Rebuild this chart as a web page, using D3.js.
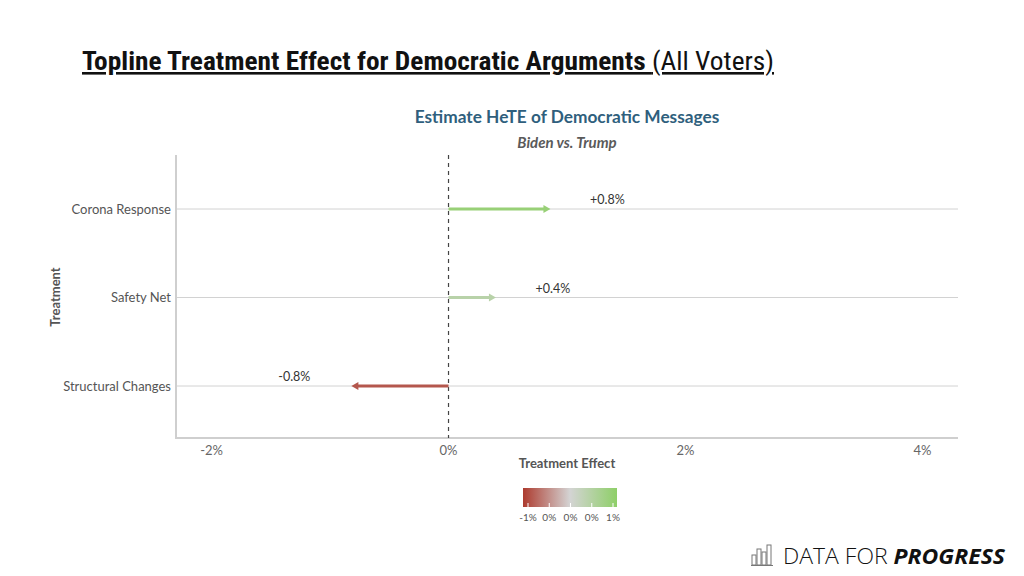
<!DOCTYPE html>
<html>
<head>
<meta charset="utf-8">
<script src="https://cdn.jsdelivr.net/npm/d3@7"></script>
<style>
  body { margin: 0; background: #fff; }
  svg { display: block; }
</style>
</head>
<body>
<svg id="chart" width="1024" height="576"></svg>
<script>
// data
const treatments = ['Corona Response', 'Safety Net', 'Structural Changes'];
const effects = [0.86, 0.40, -0.82];
const effectLabels = ['+0.8%', '+0.4%', '-0.8%'];
const xTicks = [-2, 0, 2, 4];
const legendLabels = ['-1%', '0%', '0%', '0%', '1%'];

const svg = d3.select('#chart');
const font = 'Lato, "Open Sans", sans-serif';

// plot box (top is taken by window.top)
const plotL = 176, plotR = 958, plotT = 155, plotB = 438;

const x = d3.scaleLinear().domain([-2.3, 4.3]).range([plotL, plotR]);
const y = d3.scalePoint().domain(treatments).range([209, 386]);

const color = d3.scaleLinear()
  .domain([-1, 0, 1])
  .range(['#ad3b2f', '#d4d4d4', '#8ecf68']);

// page title
const title = svg.append('text')
  .attr('x', 82).attr('y', 70)
  .attr('textLength', 692).attr('lengthAdjust', 'spacingAndGlyphs')
  .style('font-family', '"Roboto Condensed", "Liberation Sans Narrow", sans-serif')
  .style('font-size', '26px')
  .style('text-decoration', 'underline')
  .attr('fill', '#111');
title.append('tspan').style('font-weight', 'bold').text('Topline Treatment Effect for Democratic Arguments ');
title.append('tspan').text('(All Voters)');

// chart title + subtitle
svg.append('text')
  .attr('x', 567).attr('y', 123)
  .attr('text-anchor', 'middle')
  .style('font-family', font).style('font-size', '17.3px').style('font-weight', 'bold')
  .attr('fill', '#2f5f7d')
  .text('Estimate HeTE of Democratic Messages');

svg.append('text')
  .attr('x', 567).attr('y', 148)
  .attr('text-anchor', 'middle')
  .style('font-family', font).style('font-size', '15px')
  .style('font-weight', 'bold').style('font-style', 'italic')
  .attr('fill', '#5a5a5a')
  .text('Biden vs. Trump');

// grid lines per row
svg.selectAll('.grid')
  .data(treatments)
  .enter().append('line')
  .attr('x1', plotL).attr('x2', plotR)
  .attr('y1', d => y(d)).attr('y2', d => y(d))
  .attr('stroke', '#d2d2d2').attr('stroke-width', 1);

// axes lines
svg.append('line')
  .attr('x1', plotL).attr('x2', plotL).attr('y1', plotT).attr('y2', plotB + 1)
  .attr('stroke', '#cfcfcf').attr('stroke-width', 2);
svg.append('line')
  .attr('x1', plotL - 1).attr('x2', plotR).attr('y1', plotB).attr('y2', plotB)
  .attr('stroke', '#cfcfcf').attr('stroke-width', 2);

// zero reference
svg.append('line')
  .attr('x1', x(0)).attr('x2', x(0)).attr('y1', plotT).attr('y2', plotB)
  .attr('stroke', '#444').attr('stroke-width', 1.2)
  .attr('stroke-dasharray', '4,4');

// y labels
svg.selectAll('.ylab')
  .data(treatments)
  .enter().append('text')
  .attr('x', plotL - 5).attr('y', d => y(d) + 4.5)
  .attr('text-anchor', 'end')
  .style('font-family', font).style('font-size', '13px')
  .attr('fill', '#555')
  .text(d => d);

svg.append('text')
  .attr('transform', 'translate(60,' + 297 + ') rotate(-90)')
  .attr('text-anchor', 'middle')
  .style('font-family', font).style('font-size', '13px').style('font-weight', 'bold')
  .attr('fill', '#555')
  .text('Treatment');

// x tick labels
svg.selectAll('.xlab')
  .data(xTicks)
  .enter().append('text')
  .attr('x', d => x(d)).attr('y', plotB + 17)
  .attr('text-anchor', 'middle')
  .style('font-family', font).style('font-size', '13px')
  .attr('fill', '#666')
  .text(d => d + '%');

svg.append('text')
  .attr('x', 567).attr('y', 468)
  .attr('text-anchor', 'middle')
  .style('font-family', font).style('font-size', '13px').style('font-weight', 'bold')
  .attr('fill', '#555')
  .text('Treatment Effect');

// arrows
const rows = treatments.map((t, i) => ({ t: t, v: effects[i], lab: effectLabels[i] }));

svg.selectAll('.arrow')
  .data(rows)
  .enter().append('line')
  .attr('x1', x(0))
  .attr('x2', d => x(d.v) - Math.sign(d.v) * 5)
  .attr('y1', d => y(d.t)).attr('y2', d => y(d.t))
  .attr('stroke', d => color(d.v)).attr('stroke-width', 3);

svg.selectAll('.head')
  .data(rows)
  .enter().append('path')
  .attr('d', d => {
    const tip = x(d.v), s = Math.sign(d.v), yy = y(d.t);
    return 'M' + tip + ',' + yy + 'L' + (tip - s * 7) + ',' + (yy - 4) + 'L' + (tip - s * 7) + ',' + (yy + 4) + 'Z';
  })
  .attr('fill', d => color(d.v));

svg.selectAll('.vlab')
  .data(rows)
  .enter().append('text')
  .attr('x', d => x(d.v) + Math.sign(d.v) * 57)
  .attr('y', d => y(d.t) - 5)
  .attr('text-anchor', 'middle')
  .style('font-family', font).style('font-size', '12.5px')
  .attr('fill', '#333')
  .text(d => d.lab);

// colour legend
const defs = svg.append('defs');
const grad = defs.append('linearGradient').attr('id', 'lg');
[-1, 0, 1].forEach((v, i) => {
  grad.append('stop').attr('offset', (i * 50) + '%').attr('stop-color', color(v));
});
const legX = d3.scaleLinear().domain([0, legendLabels.length - 1]).range([528, 613]);
svg.append('rect')
  .attr('x', 523).attr('y', 488).attr('width', 94).attr('height', 19)
  .attr('fill', 'url(#lg)');
svg.selectAll('.legtick')
  .data(legendLabels)
  .enter().append('line')
  .attr('x1', (d, i) => legX(i)).attr('x2', (d, i) => legX(i))
  .attr('y1', 503).attr('y2', 507)
  .attr('stroke', '#fff').attr('stroke-width', 1);
svg.selectAll('.leglab')
  .data(legendLabels)
  .enter().append('text')
  .attr('x', (d, i) => legX(i)).attr('y', 521)
  .attr('text-anchor', 'middle')
  .style('font-family', font).style('font-size', '10px')
  .attr('fill', '#555')
  .text(d => d);

// branding
const logo = svg.append('g').attr('transform', 'translate(752,545)');
[[0, 10], [5, 16], [10, 13], [15, 20]].forEach(b => {
  logo.append('rect').attr('x', b[0]).attr('y', 20 - b[1]).attr('width', 4).attr('height', b[1])
    .attr('fill', 'none').attr('stroke', '#777').attr('stroke-width', 1);
});
logo.append('line').attr('x1', -1).attr('x2', 21).attr('y1', 20.5).attr('y2', 20.5)
  .attr('stroke', '#777');
const brand = svg.append('text')
  .attr('x', 783).attr('y', 564)
  .attr('textLength', 222).attr('lengthAdjust', 'spacingAndGlyphs')
  .style('font-family', '"Open Sans", sans-serif').style('font-size', '22px')
  .attr('fill', '#111');
brand.append('tspan').style('font-weight', '300').text('DATA FOR ');
brand.append('tspan').style('font-weight', 'bold').style('font-style', 'italic').text('PROGRESS');
</script>
</body>
</html>
